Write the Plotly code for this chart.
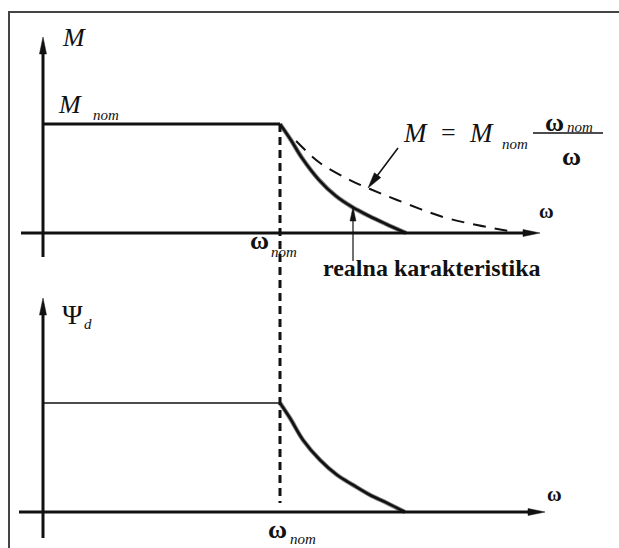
import math
import plotly.graph_objects as go

W, H = 619, 548

# Normalised speed (omega / omega_nom) and per-unit torque / flux values
omega_const = [0.0, 1.0]
m_const = [1.0, 1.0]
psi_const = [1.0, 1.0]

# Real torque characteristic in field weakening
omega_real = [1.0, 1.046, 1.093, 1.165, 1.236, 1.304, 1.376, 1.447, 1.532]
m_real = [1.0, 0.853, 0.688, 0.486, 0.339, 0.239, 0.156, 0.083, 0.0]

# Constant-power limit M = M_nom * omega_nom / omega (as sketched)
omega_hyp = [1.068, 1.169, 1.295, 1.380, 1.494, 1.688, 1.831, 1.941, 1.992]
m_hyp = [0.844, 0.642, 0.486, 0.404, 0.303, 0.147, 0.073, 0.028, 0.009]

# Flux in field weakening
omega_psi = [1.0, 1.042, 1.097, 1.169, 1.241, 1.308, 1.380, 1.451, 1.527]
psi_weak = [1.0, 0.862, 0.661, 0.477, 0.339, 0.248, 0.156, 0.083, 0.0]

omega_nom = 1.0

# Layout geometry (pixels)
X0, XS = 43, 237          # omega = 0 position, pixels per unit
Y0_TOP, Y0_BOT, YS = 233, 512, 109

INK = "#111111"
SERIF = "Liberation Serif"


def px(x):
    return x / W


def py(y):
    return 1 - y / H


fig = go.Figure()

# Upper panel: torque
fig.add_trace(go.Scatter(x=omega_const, y=m_const, mode="lines",
                         line=dict(color=INK, width=3), yaxis="y"))
fig.add_trace(go.Scatter(x=omega_hyp, y=m_hyp, mode="lines",
                         line=dict(color=INK, width=2, dash="13px,9px", shape="spline"),
                         yaxis="y"))
fig.add_trace(go.Scatter(x=omega_real, y=m_real, mode="lines",
                         line=dict(color="#888888", width=4.5, shape="spline"), yaxis="y"))
fig.add_trace(go.Scatter(x=omega_real, y=m_real, mode="lines",
                         line=dict(color=INK, width=2.6, shape="spline"), yaxis="y"))

# Lower panel: flux
fig.add_trace(go.Scatter(x=omega_const, y=psi_const, mode="lines",
                         line=dict(color=INK, width=1.5), yaxis="y2"))
fig.add_trace(go.Scatter(x=omega_psi, y=psi_weak, mode="lines",
                         line=dict(color="#888888", width=4.5, shape="spline"), yaxis="y2"))
fig.add_trace(go.Scatter(x=omega_psi, y=psi_weak, mode="lines",
                         line=dict(color=INK, width=2.6, shape="spline"), yaxis="y2"))

shapes = []

# Dashed nominal-speed marker across both panels
shapes.append(dict(type="line", xref="x", yref="y", x0=omega_nom, x1=omega_nom,
                   y0=1.0, y1=(Y0_TOP - 503) / YS,
                   line=dict(color=INK, width=3, dash="8px,5px")))


def arrow(x0, y0, x1, y1, width, head_len, head_w):
    d = math.hypot(x1 - x0, y1 - y0)
    ux, uy = (x1 - x0) / d, (y1 - y0) / d
    bx, by = x1 - ux * (head_len - 1), y1 - uy * (head_len - 1)
    shapes.append(dict(type="line", xref="paper", yref="paper",
                       x0=px(x0), y0=py(y0), x1=px(bx), y1=py(by),
                       line=dict(color=INK, width=width)))
    nx, ny = -uy, ux
    bx, by = x1 - ux * head_len, y1 - uy * head_len
    pts = [(x1, y1), (bx + nx * head_w / 2, by + ny * head_w / 2),
           (bx - nx * head_w / 2, by - ny * head_w / 2)]
    path = "M " + " L ".join(f"{px(a):.5f},{py(b):.5f}" for a, b in pts) + " Z"
    shapes.append(dict(type="path", xref="paper", yref="paper", path=path,
                       fillcolor=INK, line=dict(color=INK, width=0.5)))


# Coordinate axes with arrow heads
arrow(43, 257, 43, 37, 3, 17, 7)
arrow(21, Y0_TOP, 540, Y0_TOP, 3, 17, 7)
arrow(43, 538, 43, 298, 3, 17, 7)
arrow(19, Y0_BOT, 545, Y0_BOT, 3, 17, 7)

# Pointer arrows
arrow(398, 148, 368, 188, 1.5, 16, 8)
arrow(353, 261, 353, 207, 1.2, 14, 6)

# Fraction bar
shapes.append(dict(type="line", xref="paper", yref="paper",
                   x0=px(533), x1=px(603), y0=py(133), y1=py(133),
                   line=dict(color=INK, width=1.6)))

# Frame (left and top edges)
shapes.append(dict(type="line", xref="paper", yref="paper",
                   x0=px(9), x1=px(9), y0=py(12), y1=0,
                   line=dict(color="#444444", width=2)))
shapes.append(dict(type="line", xref="paper", yref="paper",
                   x0=px(8), x1=px(619), y0=py(12), y1=py(12),
                   line=dict(color="#444444", width=2)))

annotations = []


def label(x, y, text, size, italic=False, bold=False):
    if italic:
        text = f"<i>{text}</i>"
    if bold:
        text = f"<b>{text}</b>"
    annotations.append(dict(x=px(x), y=py(y), xref="paper", yref="paper",
                            text=text, showarrow=False, xanchor="center",
                            yanchor="middle",
                            font=dict(family=SERIF, size=size, color=INK)))


label(74, 37, "M", 26, italic=True)
label(70, 105, "M", 26, italic=True)
label(106, 115, "nom", 15, italic=True)
label(72, 314, "Ψ", 28)
label(88, 324, "d", 15, italic=True)

label(259, 240, "ω", 26, bold=True)
label(284, 252, "nom", 15, italic=True)
label(277, 529, "ω", 26, bold=True)
label(303, 539, "nom", 15, italic=True)

label(546, 211, "ω", 20, bold=True)
label(554, 494, "ω", 20, bold=True)

label(415, 133, "M", 27, italic=True)
label(448, 132, "=", 26)
label(481, 133, "M", 27, italic=True)
label(515, 144, "nom", 15, italic=True)
label(554, 122, "ω", 26, bold=True)
label(580, 127, "nom", 15, italic=True)
label(571, 156, "ω", 26, bold=True)

label(432, 268, "realna karakteristika", 24, bold=True)

fig.update_layout(
    width=W, height=H,
    margin=dict(l=0, r=0, t=0, b=0, pad=0),
    paper_bgcolor="white", plot_bgcolor="white",
    showlegend=False,
    xaxis=dict(range=[-X0 / XS, (W - X0) / XS], visible=False, fixedrange=True),
    yaxis=dict(range=[(Y0_TOP - H) / YS, Y0_TOP / YS], visible=False, domain=[0, 1]),
    yaxis2=dict(range=[(Y0_BOT - H) / YS, Y0_BOT / YS], visible=False,
                overlaying="y", domain=[0, 1]),
    shapes=shapes,
    annotations=annotations,
)

fig.write_html("out.html", config=dict(displayModeBar=False))
